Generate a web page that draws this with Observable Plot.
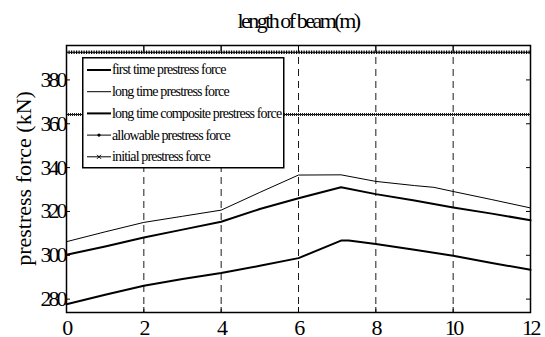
<!DOCTYPE html>
<html><head><meta charset="utf-8">
<script src="https://cdn.jsdelivr.net/npm/d3@7"></script>
<script src="https://cdn.jsdelivr.net/npm/@observablehq/plot@0.6"></script>
<style>
body{margin:0;background:#fff;}
#wrap{position:relative;width:545px;height:337px;}
#legend{position:absolute;left:82px;top:57px;}
</style></head><body><div id="wrap"></div>
<script>
// data
const xFirst = [0,1,2,3,4,5,6,7.1,7.3,8,9,10,11,12];
const firstTime = [277.7,282,286.1,289.2,291.9,295.2,298.7,306.7,306.7,305.1,302.5,299.8,296.5,293.4];
const xLong = [0,1,2,3,4,5,6,7.1,8,9,9.5,10,11,12];
const longTime = [306.2,310.7,315,317.8,320.6,328.7,336.6,336.7,333.7,331.8,331,329.1,325.4,321.6];
const xComposite = [0,1,2,3,4,5,6,7.1,8,9,10,11,12];
const composite = [300.2,304,308.1,311.7,315.3,321.1,326,331,327.9,325,321.8,319,316];
const allowable = 392.6;
const initial = 364.2;
const xTicks = [0,2,4,6,8,10,12];
const xGrid = [2,4,6,8,10];
const yTicks = [280,300,320,340,360,380];
const legendLabels = ["first time prestress force","long time prestress force","long time composite prestress force","allowable prestress force","initial prestress force"];
const legendWidths = [2,1,2,1,1];
const legendMarkers = [null,null,null,"dot","x"];
const titleText = "length of beam(m)";
const yLabel = "prestress force (kN)";

const SERIF = "'Liberation Serif','Times New Roman','DejaVu Serif',serif";
const W = 545, H = 337, mT = 45, mB = 25, mL = 66, mR = 15;
const rows = (xs, ys) => xs.map((x, i) => ({x, y: ys[i]}));
const noText = () => "";

const chart = Plot.plot({
  width: W, height: H,
  marginTop: mT, marginBottom: mB, marginLeft: mL, marginRight: mR,
  x: {domain: [0, 12]},
  y: {domain: [273.9, 395.7]},
  style: {background: "white", overflow: "visible"},
  marks: [
    Plot.ruleX(xGrid, {stroke: "black", strokeWidth: 0.9, strokeDasharray: "7,5"}),
    Plot.ruleY([allowable], {stroke: "black", strokeWidth: 1}),
    Plot.ruleY([allowable], {stroke: "black", strokeWidth: 3.5, strokeDasharray: "1.2,1.3"}),
    Plot.ruleY([initial], {stroke: "black", strokeWidth: 1}),
    Plot.ruleY([initial], {stroke: "#222", strokeWidth: 3, strokeDasharray: "1,1"}),
    Plot.line(rows(xFirst, firstTime), {x: "x", y: "y", stroke: "black", strokeWidth: 2}),
    Plot.line(rows(xLong, longTime), {x: "x", y: "y", stroke: "black", strokeWidth: 1}),
    Plot.line(rows(xComposite, composite), {x: "x", y: "y", stroke: "black", strokeWidth: 2}),
    Plot.axisX(xTicks, {anchor: "bottom", tickSize: 0, tickPadding: 7, fontSize: 22, label: null}),
    Plot.axisX(xTicks, {anchor: "bottom", tickSize: 5, insetBottom: 5, tickFormat: noText, label: null}),
    Plot.axisX(xTicks, {anchor: "top", tickSize: 5, insetTop: 5, tickFormat: noText, label: null}),
    Plot.axisY(yTicks, {anchor: "left", tickSize: 0, tickPadding: 2, fontSize: 22, label: null}),
    Plot.axisY(yTicks, {anchor: "left", tickSize: 4, insetLeft: 4, tickFormat: noText, label: null}),
    Plot.axisY(yTicks, {anchor: "right", tickSize: 5, insetRight: 5, tickFormat: noText, label: null}),
    Plot.frame({stroke: "black", strokeWidth: 1.5})
  ]
});
document.getElementById("wrap").appendChild(chart);

const svg = d3.select(chart);
svg.attr("font-family", SERIF).style("font-family", SERIF);
const xLab = new Set(xTicks.map(String)), yLab = new Set(yTicks.map(String));
svg.selectAll("text").each(function () {
  const t = this.textContent;
  const s = this.style;
  s.fontFamily = SERIF;
  if (xLab.has(t)) { s.fontSize = "22px"; s.letterSpacing = "-2.5px"; }
  else if (yLab.has(t)) { s.fontSize = "22px"; s.letterSpacing = "-3px"; }
});

// title (x-axis label placed above the frame) and y-axis label
const plotCx = mL + (W - mL - mR) / 2, plotCy = mT + (H - mT - mB) / 2;
svg.append("text").text(titleText)
  .attr("x", plotCx).attr("y", 28).attr("text-anchor", "middle")
  .style("font-family", SERIF).style("font-size", "22px").style("letter-spacing", "-2.5px").attr("fill", "black");
svg.append("text").text(yLabel)
  .attr("transform", `translate(31,${plotCy}) rotate(-90)`).attr("text-anchor", "middle")
  .style("font-family", SERIF).style("font-size", "22px").attr("fill", "black");

// legend box overlay
const lw = 201, lh = 110, rowH = 21.7, row0 = 13;
const lg = d3.select("#wrap").append("svg").attr("id", "legend")
  .attr("width", lw + 2).attr("height", lh + 2)
  .style("font-family", SERIF).style("font-size", "14px");
lg.append("rect").attr("x", 0.75).attr("y", 0.75).attr("width", lw).attr("height", lh)
  .attr("fill", "white").attr("stroke", "black").attr("stroke-width", 1.5);
legendLabels.forEach((lab, i) => {
  const y = row0 + i * rowH;
  lg.append("line").attr("x1", 5).attr("x2", 29).attr("y1", y).attr("y2", y)
    .attr("stroke", "black").attr("stroke-width", legendWidths[i]);
  if (legendMarkers[i] === "dot") {
    lg.append("circle").attr("cx", 17).attr("cy", y).attr("r", 1.6).attr("fill", "black");
  } else if (legendMarkers[i] === "x") {
    lg.append("path").attr("d", `M15,${y-2}L19,${y+2}M15,${y+2}L19,${y-2}`).attr("stroke", "black").attr("stroke-width", 1);
  }
  lg.append("text").attr("x", 30).attr("y", y).attr("dy", "0.32em").attr("fill", "black")
    .style("font-family", SERIF).style("letter-spacing", "-0.85px").text(lab);
});
</script></body></html>
